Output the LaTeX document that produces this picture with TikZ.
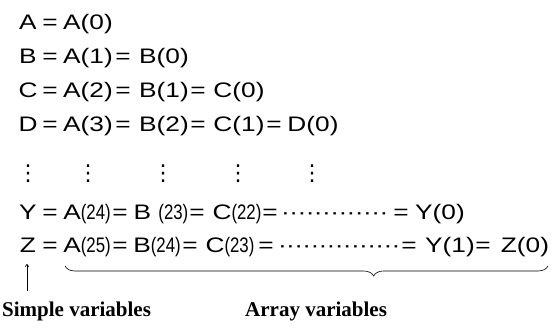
\documentclass[tikz,border=0pt]{standalone}
\usepackage{fontspec}
\usetikzlibrary{decorations.pathreplacing,arrows.meta}
\newfontfamily\widefam[FakeStretch=1.25]{Liberation Sans}
\newfontfamily\narrowfam[FakeStretch=0.8]{Liberation Sans}
\newfontfamily\lblfam{Liberation Serif}
\newfontfamily\dvfam{DejaVu Sans}
\newcommand{\nn}[1]{{\narrowfam(#1)}}
\newcommand{\leaddots}[1]{\hbox to #1{\xleaders\hbox to 7.8pt{\hss·\hss}\hfill}}
\tikzset{
  term/.style={anchor=base, inner sep=0pt, font=\widefam\fontsize{21}{25}\selectfont},
  lead/.style={anchor=base west, inner sep=0pt, font=\widefam\fontsize{21}{25}\selectfont},
  vdot/.style={anchor=center, inner sep=0pt, font=\dvfam\fontsize{22}{26}\selectfont},
  lbl/.style={anchor=base west, inner sep=0pt, font=\lblfam\bfseries\fontsize{21}{25}\selectfont},
  conn/.style={line width=0.6pt}
}
\begin{document}
\begin{tikzpicture}[x=1pt,y=-1pt]
\useasboundingbox (0,0) rectangle (559,331);
% row A
\node[term] (a0) at (28,30) {A};
\node[term] (ae0) at (50,30) {=};
\node[term] (a1) at (88,30) {A(0)};
% row B
\node[term] (b0) at (28,64) {B};
\node[term] (be0) at (50,64) {=};
\node[term] (b1) at (88,64) {A(1)};
\node[term] (be1) at (123,64) {=};
\node[term] (b2) at (164,64) {B(0)};
% row C
\node[term] (c0) at (28,98) {C};
\node[term] (ce0) at (50,98) {=};
\node[term] (c1) at (88,98) {A(2)};
\node[term] (ce1) at (123,98) {=};
\node[term] (c2) at (164,98) {B(1)};
\node[term] (ce2) at (198,98) {=};
\node[term] (c3) at (239,98) {C(0)};
% row D
\node[term] (d0) at (28,132) {D};
\node[term] (de0) at (50,132) {=};
\node[term] (d1) at (88,132) {A(3)};
\node[term] (de1) at (123,132) {=};
\node[term] (d2) at (164,132) {B(2)};
\node[term] (de2) at (198,132) {=};
\node[term] (d3) at (239,132) {C(1)};
\node[term] (de3) at (274,132) {=};
\node[term] (d4) at (313,132) {D(0)};
% vertical dots
\node[vdot] (v0) at (28,174) {⋮};
\node[vdot] (v1) at (88,174) {⋮};
\node[vdot] (v2) at (163,174) {⋮};
\node[vdot] (v3) at (238,174) {⋮};
\node[vdot] (v4) at (312,174) {⋮};
% row Y
\node[term] (y0) at (28,219) {Y};
\node[term] (ye0) at (50,219) {=};
\node[term] (y1) at (87,219) {A\nn{24}};
\node[term] (ye1) at (120,219) {=};
\node[term] (y2) at (161,219) {B \nn{23}};
\node[term] (ye2) at (197,219) {=};
\node[term] (y3) at (237,219) {C\nn{22}};
\node[term] (ye3) at (270,219) {=};
\node[lead] (yd) at (281,219) {\leaddots{107pt}};
\node[term] (ye4) at (401,219) {=};
\node[term] (y4) at (440,219) {Y(0)};
% row Z
\node[term] (z0) at (28,252) {Z};
\node[term] (ze0) at (50,252) {=};
\node[term] (z1) at (87,252) {A\nn{25}};
\node[term] (ze1) at (120,252) {=};
\node[term] (z2) at (157,252) {B\nn{24}};
\node[term] (ze2) at (190,252) {=};
\node[term] (z3) at (230,252) {C\nn{23}};
\node[term] (ze3) at (266,252) {=};
\node[lead] (zd) at (278,252) {\leaddots{122pt}};
\node[term] (ze4) at (409,252) {=};
\node[term] (z4) at (450,252) {Y(1)};
\node[term] (ze5) at (483,252) {=};
\node[term] (z5) at (525,252) {Z(0)};
% arrow and brace
\coordinate (arrS) at (27,291);
\coordinate (arrE) at (27,264);
\draw[conn,-{To[length=3pt,width=4pt]}] (arrS) -- (arrE);
\coordinate (brL) at (65,266);
\coordinate (brR) at (548,266);
\draw[conn,decorate,decoration={brace,mirror,amplitude=10pt,aspect=0.639}] (brL) -- (brR);
% labels
\node[lbl] (lsimple) at (2,316) {Simple variables};
\node[lbl] (larray) at (245,316) {Array variables};
\end{tikzpicture}
\end{document}
